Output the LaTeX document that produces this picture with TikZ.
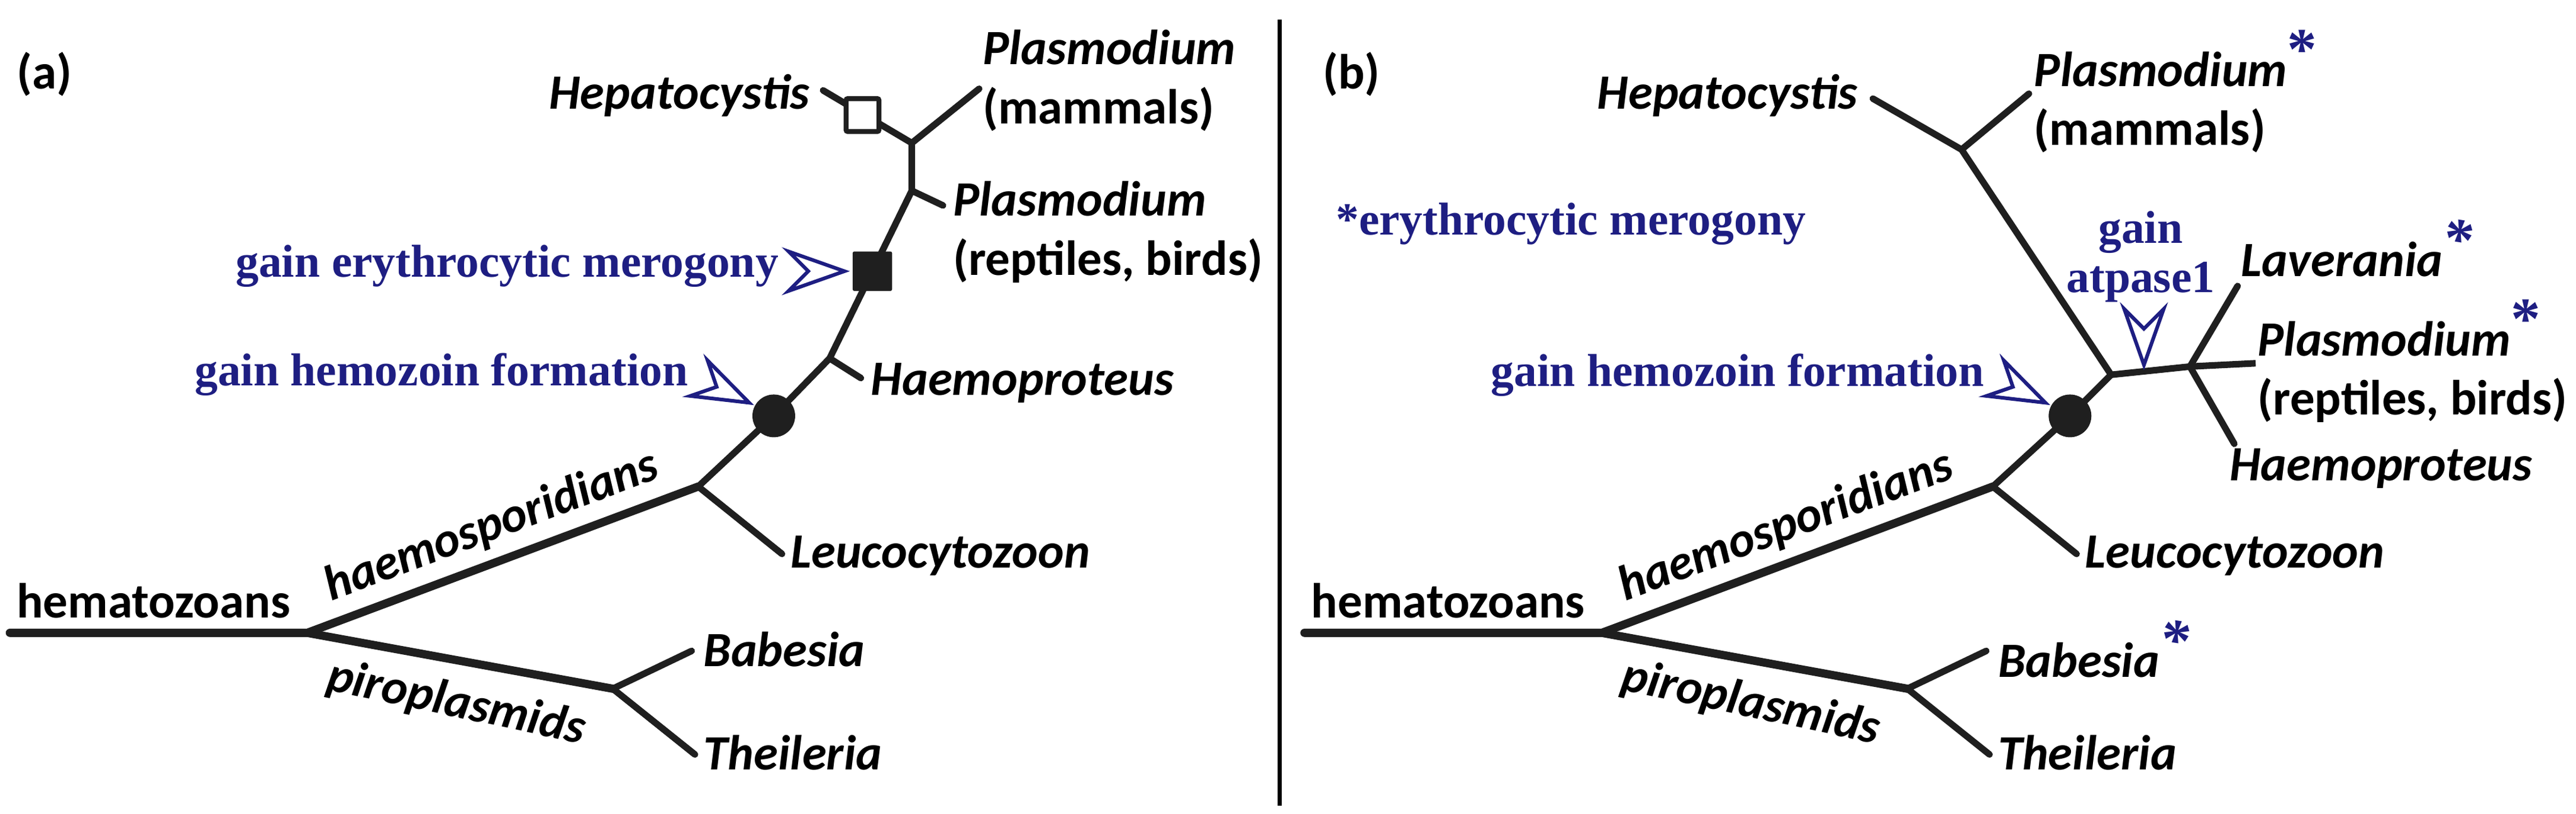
\documentclass[tikz,border=0pt]{standalone}
\usepackage{fontspec}
\setmainfont{Carlito}
\newfontfamily\bluefont{Liberation Serif}
\definecolor{annot}{HTML}{1E1E82}
\definecolor{ink}{HTML}{1F1F1F}
\newcommand{\bstar}{\textcolor{annot}{\raisebox{0.35em}{\fontsize{36}{36}\bluefont\bfseries *}}}
\begin{document}
\begin{tikzpicture}[x=1pt,y=-1pt,
  br/.style={draw=ink,line width=4pt,line cap=round},
  thick br/.style={draw=ink,line width=5pt,line cap=round},
  lab/.style={font=\fontsize{30}{36}\selectfont\bfseries\itshape,inner sep=0pt},
  plain/.style={font=\fontsize{30}{36}\selectfont\bfseries,inner sep=0pt},
  two/.style={anchor=north west,inner sep=0pt,align=left,font=\fontsize{30}{36}\selectfont\bfseries},
  blue lab/.style={font=\fontsize{28}{30}\selectfont\bluefont\bfseries,text=annot,inner sep=0pt},
  marker/.style={draw=annot,line width=2.2pt,line join=miter,fill=white}]
\useasboundingbox (0,0) rectangle (1568,495);
\newcommand{\openarrow}[2]{\draw[marker,shift={(#1)},rotate=#2] (0,0) -- (-34,-12) -- (-22,0) -- (-34,12) -- cycle;}

% divider
\coordinate (dt) at (779,12); \coordinate (db) at (779,490);
\draw[line width=2.5pt] (dt) -- (db);

% ================= panel (a)
\node[plain,anchor=west] (la) at (10,45) {(a)};
\coordinate (aR) at (6,385);
\coordinate (aS) at (187,385);
\coordinate (aH) at (425,296);
\coordinate (aP) at (373,419);
\coordinate (aLeu) at (476,337);
\coordinate (aBab) at (421,396);
\coordinate (aThe) at (423,459);
\coordinate (aC) at (471,253);
\coordinate (aHn) at (505,218);
\coordinate (aHe) at (524,230);
\coordinate (aSq) at (531,165);
\coordinate (aRn) at (555,116);
\coordinate (aRe) at (574,125);
\coordinate (aMn) at (555,87);
\coordinate (aMe) at (596,54);
\coordinate (aHep) at (501,55);

\draw[thick br] (aR) -- (aS) -- (aH);
\draw[thick br] (aS) -- (aP);
\draw[br] (aP) -- (aBab); \draw[br] (aP) -- (aThe);
\draw[br] (aH) -- (aLeu);
\draw[br] (aH) -- (aC) -- (aHn) -- (aSq) -- (aRn) -- (aMn) -- (aMe);
\draw[br] (aHn) -- (aHe); \draw[br] (aRn) -- (aRe);
\draw[br] (aMn) -- (aHep);
\node[draw=ink,line width=3pt,fill=white,minimum size=20pt,inner sep=0pt,rounded corners=1pt] (aOpen) at (525,70) {};
\node[fill=ink,minimum size=24pt,inner sep=0pt,rounded corners=1pt] (aFill) at (aSq) {};
\node[fill=ink,circle,minimum size=26pt,inner sep=0pt] (aDot) at (aC) {};

\node[plain,anchor=base west] (aHema) at (10,376) {hematozoans};
\node[lab,rotate=20.5,anchor=base] (aHaem) at (302,328) {haemosporidians};
\node[lab,rotate=-12,anchor=base] (aPiro) at (276,436) {piroplasmids};
\node[lab,anchor=west] (aLeuT) at (481,338) {Leucocytozoon};
\node[lab,anchor=west] (aBabT) at (428,395) {Babesia};
\node[lab,anchor=west] (aTheT) at (428,458) {Theileria};
\node[lab,anchor=west] (aHaeT) at (530,233) {Haemoproteus};
\node[lab,anchor=east] (aHepT) at (493,58) {Hepatocystis};
\node[two] (aMamT) at (598,18) {\textit{Plasmodium}\\(mammals)};
\node[two] (aRepT) at (580,110) {\textit{Plasmodium}\\(reptiles, birds)};
\node[blue lab,anchor=east] (aMer) at (474,162) {gain erythrocytic merogony};
\node[blue lab,anchor=east] (aHz) at (419,228) {gain hemozoin formation};
\coordinate (aMerTip) at (514,165);
\coordinate (aHzTip) at (456,245);
\openarrow{aMerTip}{0}
\openarrow{aHzTip}{-26}

% ================= panel (b)
\node[plain,anchor=west] (lb) at (805,45) {(b)};
\coordinate (bR) at (794,385);
\coordinate (bS) at (975,385);
\coordinate (bH) at (1213,296);
\coordinate (bP) at (1161,419);
\coordinate (bLeu) at (1264,337);
\coordinate (bBab) at (1209,396);
\coordinate (bThe) at (1211,459);
\coordinate (bC) at (1260,253);
\coordinate (bN) at (1285,228);
\coordinate (bM) at (1333,223);
\coordinate (bRe) at (1373,221);
\coordinate (bLav) at (1362,174);
\coordinate (bHae) at (1360,270);
\coordinate (bU) at (1194,91);
\coordinate (bHep) at (1140,60);
\coordinate (bMam) at (1235,57);

\draw[thick br] (bR) -- (bS) -- (bH);
\draw[thick br] (bS) -- (bP);
\draw[br] (bP) -- (bBab); \draw[br] (bP) -- (bThe);
\draw[br] (bH) -- (bLeu);
\draw[br] (bH) -- (bC) -- (bN) -- (bU) -- (bHep);
\draw[br] (bU) -- (bMam);
\draw[br,line cap=butt] (bN) -- (bM) -- (bRe);
\draw[br] (bLav) -- (bM) -- (bHae);
\node[fill=ink,circle,minimum size=26pt,inner sep=0pt] (bDot) at (bC) {};

\node[plain,anchor=base west] (bHema) at (798,376) {hematozoans};
\node[lab,rotate=20.5,anchor=base] (bHaem) at (1090,328) {haemosporidians};
\node[lab,rotate=-12,anchor=base] (bPiro) at (1064,436) {piroplasmids};
\node[lab,anchor=west] (bLeuT) at (1269,338) {Leucocytozoon};
\node[lab,anchor=west] (bBabT) at (1216,395) {Babesia\bstar};
\node[lab,anchor=west] (bTheT) at (1216,458) {Theileria};
\node[lab,anchor=east] (bHepT) at (1131,58) {Hepatocystis};
\node[two] (bMamT) at (1238,18) {\textit{Plasmodium}\bstar\\(mammals)};
\node[lab,anchor=base west] (bLavT) at (1364,168) {Laverania\bstar};
\node[two] (bRepT) at (1374,182) {\textit{Plasmodium}\bstar\\(reptiles, birds)};
\node[lab,anchor=west] (bHaeT) at (1357,285) {Haemoproteus};
\node[blue lab,anchor=base west] (bEry) at (813,143) {*erythrocytic merogony};
\node[blue lab,anchor=base east] (bHz) at (1208,235) {gain hemozoin formation};
\node[blue lab,align=center,anchor=south] (bAtp) at (1303,184) {gain\\atpase1};
\coordinate (bAtpTip) at (1305,222);
\coordinate (bHzTip) at (1245,245);
\openarrow{bAtpTip}{-90}
\openarrow{bHzTip}{-26}
\end{tikzpicture}
\end{document}
